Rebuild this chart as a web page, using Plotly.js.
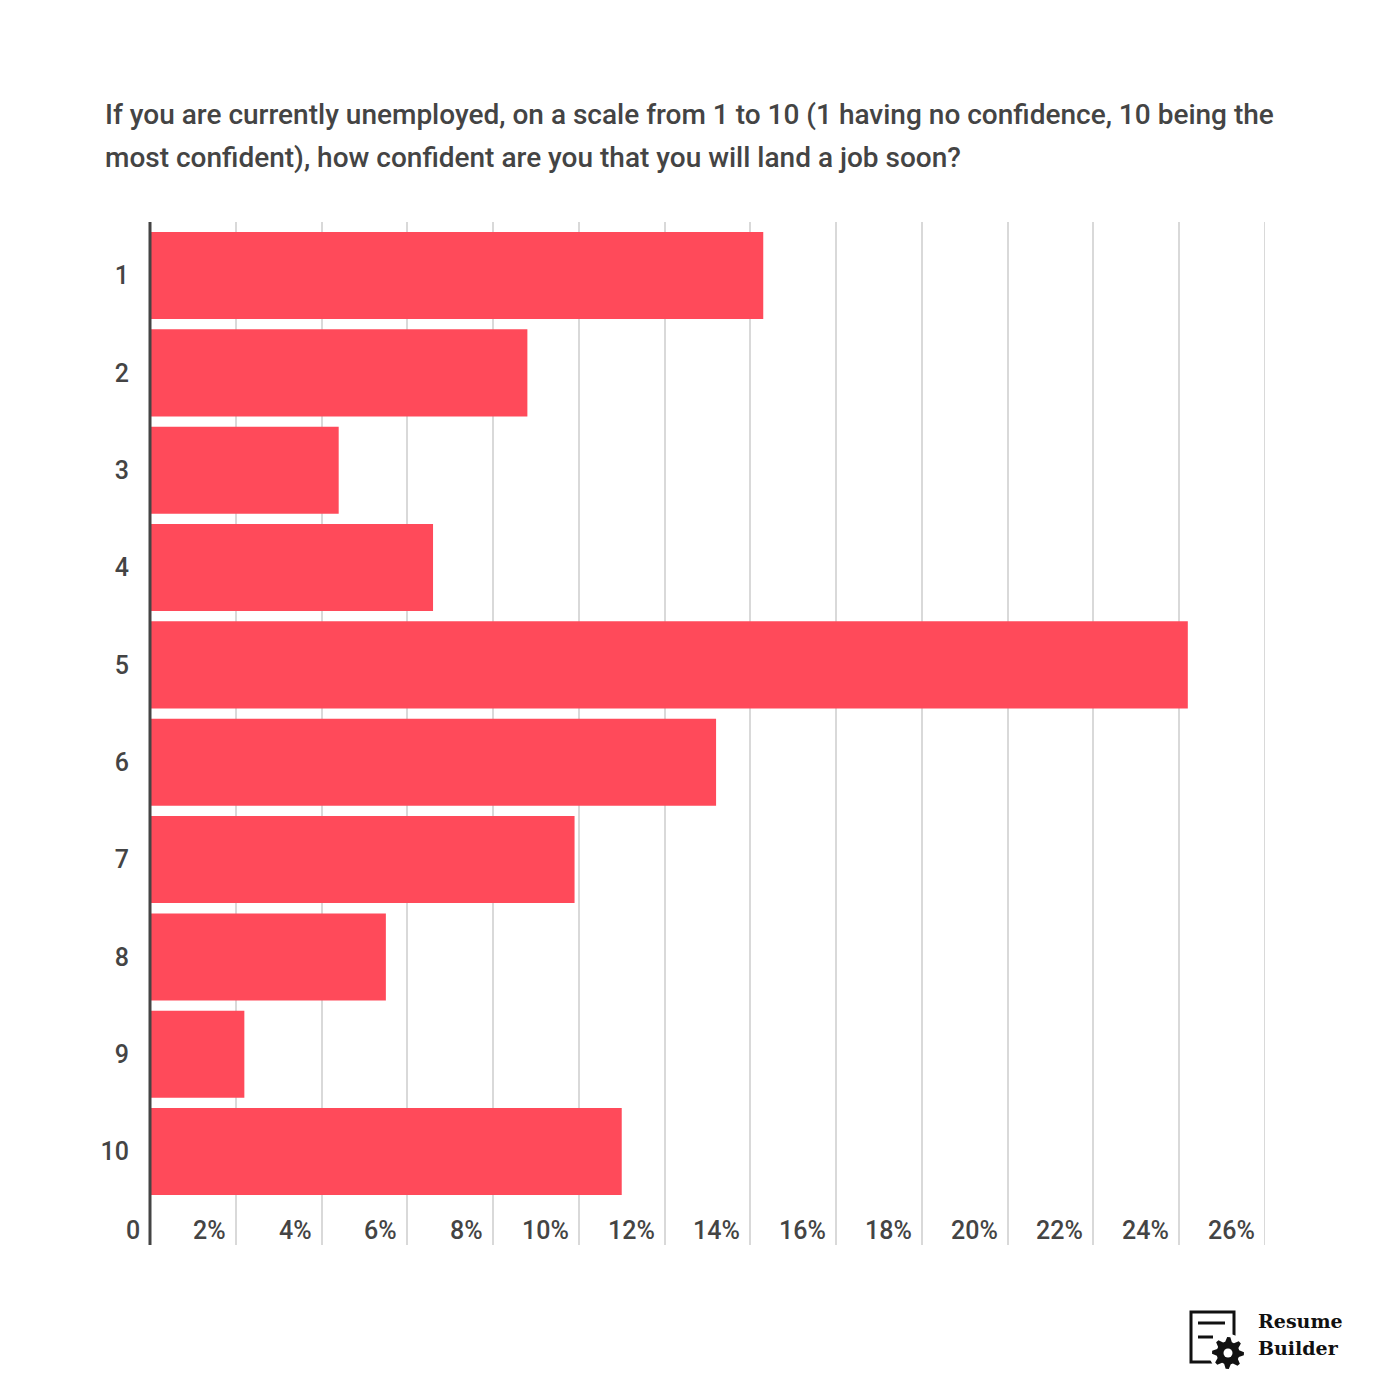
<!DOCTYPE html>
<html>
<head>
<meta charset="utf-8">
<script src="https://cdn.plot.ly/plotly-3.0.1.min.js"></script>
<style>html,body{margin:0;padding:0;background:#fff;}</style>
</head>
<body>
<div id="chart" style="width:1400px;height:1400px;"></div>
<script>
// ---- data ----
const categories = ["1","2","3","4","5","6","7","8","9","10"];
const shares = [14.3, 8.8, 4.4, 6.6, 24.2, 13.2, 9.9, 5.5, 2.2, 11.0];
const xTickVals = [0,2,4,6,8,10,12,14,16,18,20,22,24,26];
const xTickText = ["0","2%","4%","6%","8%","10%","12%","14%","16%","18%","20%","22%","24%","26%"];
const titleLines = [
  "If you are currently unemployed, on a scale from 1 to 10 (1 having no confidence, 10 being the",
  "most confident), how confident are you that you will land a job soon?"
];

// ---- layout geometry ----
const W = 1400, H = 1400;
const L = 150, R = 1265, T = 222, B = 1245;
const pw = R - L, ph = B - T;
const px = x => (x - L) / pw;
const py = y => (B - y) / ph;

const textColor = "#444444";
const font = "Roboto, 'Open Sans', sans-serif";

const yPos = categories.map((c, i) => i + 1);

const trace = {
  type: "bar",
  orientation: "h",
  x: shares,
  y: yPos,
  width: 0.894,
  marker: {color: "#FF4A5A", line: {width: 0}},
  hoverinfo: "skip"
};

const annotations = [];
const titleY = [114, 157];
titleLines.forEach((t, i) => {
  annotations.push({
    text: t, xref: "paper", yref: "paper",
    x: px(103), y: py(titleY[i]), xanchor: "left", yanchor: "middle",
    showarrow: false, font: {family: font, size: 28, weight: 500, color: textColor}
  });
});
xTickVals.forEach((v, i) => {
  annotations.push({
    text: xTickText[i], xref: "x", yref: "paper",
    x: v, y: py(1230), xanchor: "right", yanchor: "middle", xshift: -8,
    showarrow: false, font: {family: font, size: 25, weight: 500, color: textColor}
  });
});
annotations.push({
  text: "<b>Resume</b>", xref: "paper", yref: "paper",
  x: px(1256), y: py(1321), xanchor: "left", yanchor: "middle",
  showarrow: false, font: {family: "'DejaVu Serif', 'Liberation Serif', serif", size: 19, color: "#111"}
});
annotations.push({
  text: "<b>Builder</b>", xref: "paper", yref: "paper",
  x: px(1256), y: py(1348), xanchor: "left", yanchor: "middle",
  showarrow: false, font: {family: "'DejaVu Serif', 'Liberation Serif', serif", size: 19, color: "#111"}
});

function gearPath(cx, cy, rOut, rIn, teeth) {
  let d = "";
  const n = teeth * 4;
  for (let k = 0; k < n; k++) {
    const a = (k / n) * 2 * Math.PI - Math.PI / n / 2;
    const r = (k % 4 === 0 || k % 4 === 1) ? rOut : rIn;
    const x = cx + r * Math.cos(a), y = cy + r * Math.sin(a);
    d += (k === 0 ? "M" : "L") + px(x).toFixed(5) + "," + py(y).toFixed(5);
  }
  return d + "Z";
}

const gcx = 1228, gcy = 1353;
const shapes = [
  {type: "line", xref: "x", yref: "paper", x0: 26, x1: 26, y0: 0, y1: 1,
   line: {color: "#d9d9d9", width: 2}, layer: "below"},
  {type: "line", xref: "paper", yref: "paper", x0: 0, x1: 0, y0: 0, y1: 1,
   line: {color: "#444444", width: 3}, layer: "above"},
  {type: "rect", xref: "paper", yref: "paper", x0: px(1191), x1: px(1234), y0: py(1312), y1: py(1362),
   line: {color: "#111", width: 3}, fillcolor: "rgba(0,0,0,0)"},
  {type: "line", xref: "paper", yref: "paper", x0: px(1198), x1: px(1225), y0: py(1323), y1: py(1323),
   line: {color: "#111", width: 3}},
  {type: "line", xref: "paper", yref: "paper", x0: px(1198), x1: px(1213), y0: py(1337), y1: py(1337),
   line: {color: "#111", width: 3}},
  {type: "circle", xref: "paper", yref: "paper", x0: px(gcx-19), x1: px(gcx+19), y0: py(gcy-19), y1: py(gcy+19),
   line: {width: 0}, fillcolor: "#ffffff"},
  {type: "path", xref: "paper", yref: "paper", path: gearPath(gcx, gcy, 16, 11.5, 8),
   line: {width: 0}, fillcolor: "#111"},
  {type: "circle", xref: "paper", yref: "paper", x0: px(gcx-4.5), x1: px(gcx+4.5), y0: py(gcy-4.5), y1: py(gcy+4.5),
   line: {width: 0}, fillcolor: "#ffffff"}
];

const layout = {
  width: W, height: H,
  margin: {l: L, r: W - R, t: T, b: H - B, pad: 0},
  paper_bgcolor: "#ffffff", plot_bgcolor: "#ffffff",
  showlegend: false,
  xaxis: {
    range: [0, 26], tickvals: xTickVals, showticklabels: false,
    showgrid: true, gridcolor: "#d9d9d9", gridwidth: 2, zeroline: false,
    showline: false, ticks: "", fixedrange: true
  },
  yaxis: {
    range: [10.96, 0.45], tickvals: yPos, ticktext: categories,
    showgrid: false, zeroline: false, showline: false, ticks: "",
    ticklabelstandoff: 20,
    tickfont: {family: font, size: 25, weight: 500, color: textColor}, fixedrange: true
  },
  annotations: annotations,
  shapes: shapes
};

Plotly.newPlot("chart", [trace], layout, {displayModeBar: false, staticPlot: true});
</script>
</body>
</html>
